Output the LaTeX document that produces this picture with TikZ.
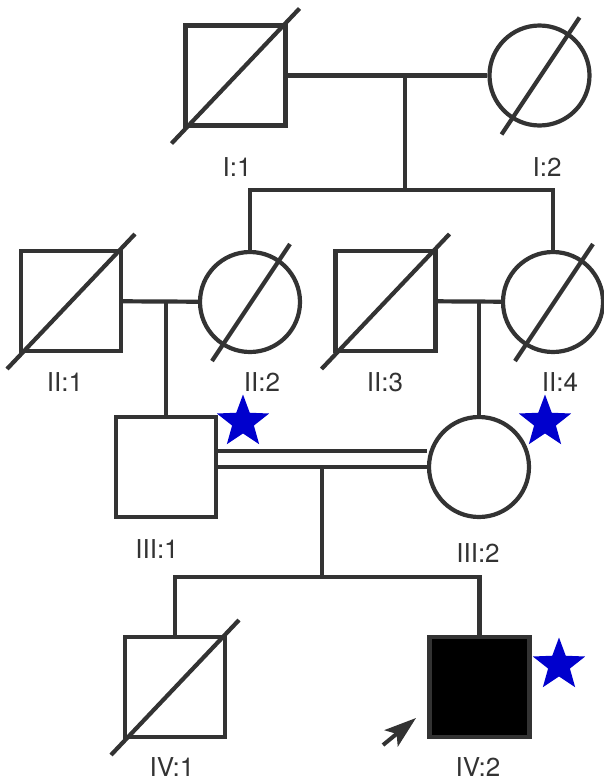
\documentclass[tikz,border=0pt]{standalone}
\usepackage{fontspec}
\setmainfont{TeX Gyre Heros}
\usetikzlibrary{calc}
\usetikzlibrary{shapes.geometric}
\usetikzlibrary{arrows.meta}
\definecolor{pedgray}{HTML}{333333}
\definecolor{starblue}{RGB}{0,0,205}
\tikzset{male/.style = {shape=rectangle,draw=pedgray,line width=4.2pt,minimum size=100pt,inner sep=0pt}}
\tikzset{female/.style = {shape=circle,draw=pedgray,line width=4.2pt,minimum size=100pt,inner sep=0pt}}
\tikzset{slash/.style = {draw=pedgray,line width=4.2pt}}
\tikzset{tag/.style = {font=\fontsize{26}{28}\selectfont,text=pedgray}}
\tikzset{carrier/.style = {star,star points=5,star point ratio=2.4,fill=starblue,minimum size=55pt,inner sep=0pt}}
\tikzset{pointer/.style = {draw=pedgray,line width=4pt,-{Stealth[length=32pt,width=21pt,inset=7pt,fill=pedgray]}}}

\begin{document}
\begin{tikzpicture}[x=1pt,y=-1pt,line width=4.2pt,draw=pedgray]
                    \useasboundingbox (0,0) rectangle (604,782);

                    \node[male] (i1) at (235.5,75.5) {};
                    \node[female] (i2) at (539.5,75.5) {};
                    \node[male] (ii1) at (71,301) {};
                    \node[female] (ii2) at (250,302) {};
                    \node[male] (ii3) at (385.5,301) {};
                    \node[female] (ii4) at (553,302) {};
                    \node[male] (iii1) at (166,467) {};
                    \node[female] (iii2) at (479,467) {};
                    \node[male] (iv1) at (175,687) {};
                    \node[male, fill=black] (iv2) at (479.5,687) {};

                    \foreach \n in {i1,ii1,ii3,iv1} {
                      \draw[slash] ($(\n)+(-64,68)$) -- ($(\n)+(64,-67)$);
                    }
                    \foreach \n in {i2,ii2,ii4} {
                      \draw[slash] ($(\n)+(-38,59)$) -- ($(\n)+(40,-58)$);
                    }

                    \coordinate (m1) at (405,75.5);
                    \coordinate (s1) at (405,190);
                    \coordinate (m2) at (166,302);
                    \coordinate (m3) at (479,302);
                    \coordinate (m4) at (322,467);
                    \coordinate (s4) at (322,577);

                    \draw (i1) -- (i2);
                    \draw (m1) -- (s1);
                    \draw (ii2) |- (s1) -| (ii4);
                    \draw (ii1) -- (ii2);
                    \draw (ii3) -- (ii4);
                    \draw (m2) -- (iii1);
                    \draw (m3) -- (iii2);
                    \draw (iii1) -- (iii2);
                    \draw ($(iii1.east)+(0,-16)$) -- ($(iii2.west)+(0,-16)$);
                    \draw (m4) -- (s4);
                    \draw (iv1) |- (s4) -| (iv2);

                    \node[carrier] (c1) at (243,422) {};
                    \node[carrier] (c2) at (545,422) {};
                    \node[carrier] (c3) at (559,665) {};

                    \coordinate (p0) at (383,745);
                    \coordinate (p1) at (416,718);
                    \draw[pointer] (p0) -- (p1);

                    \node[tag] (t1) at (237,167) {I:1};
                    \node[tag] (t2) at (547,167) {I:2};
                    \node[tag] (t3) at (65,382) {II:1};
                    \node[tag] (t4) at (262,382) {II:2};
                    \node[tag] (t5) at (385,382) {II:3};
                    \node[tag] (t6) at (560,382) {II:4};
                    \node[tag] (t7) at (157,549) {III:1};
                    \node[tag] (t8) at (478,553) {III:2};
                    \node[tag] (t9) at (172,767) {IV:1};
                    \node[tag] (t10) at (478,767) {IV:2};
                  \end{tikzpicture}
\end{document}
